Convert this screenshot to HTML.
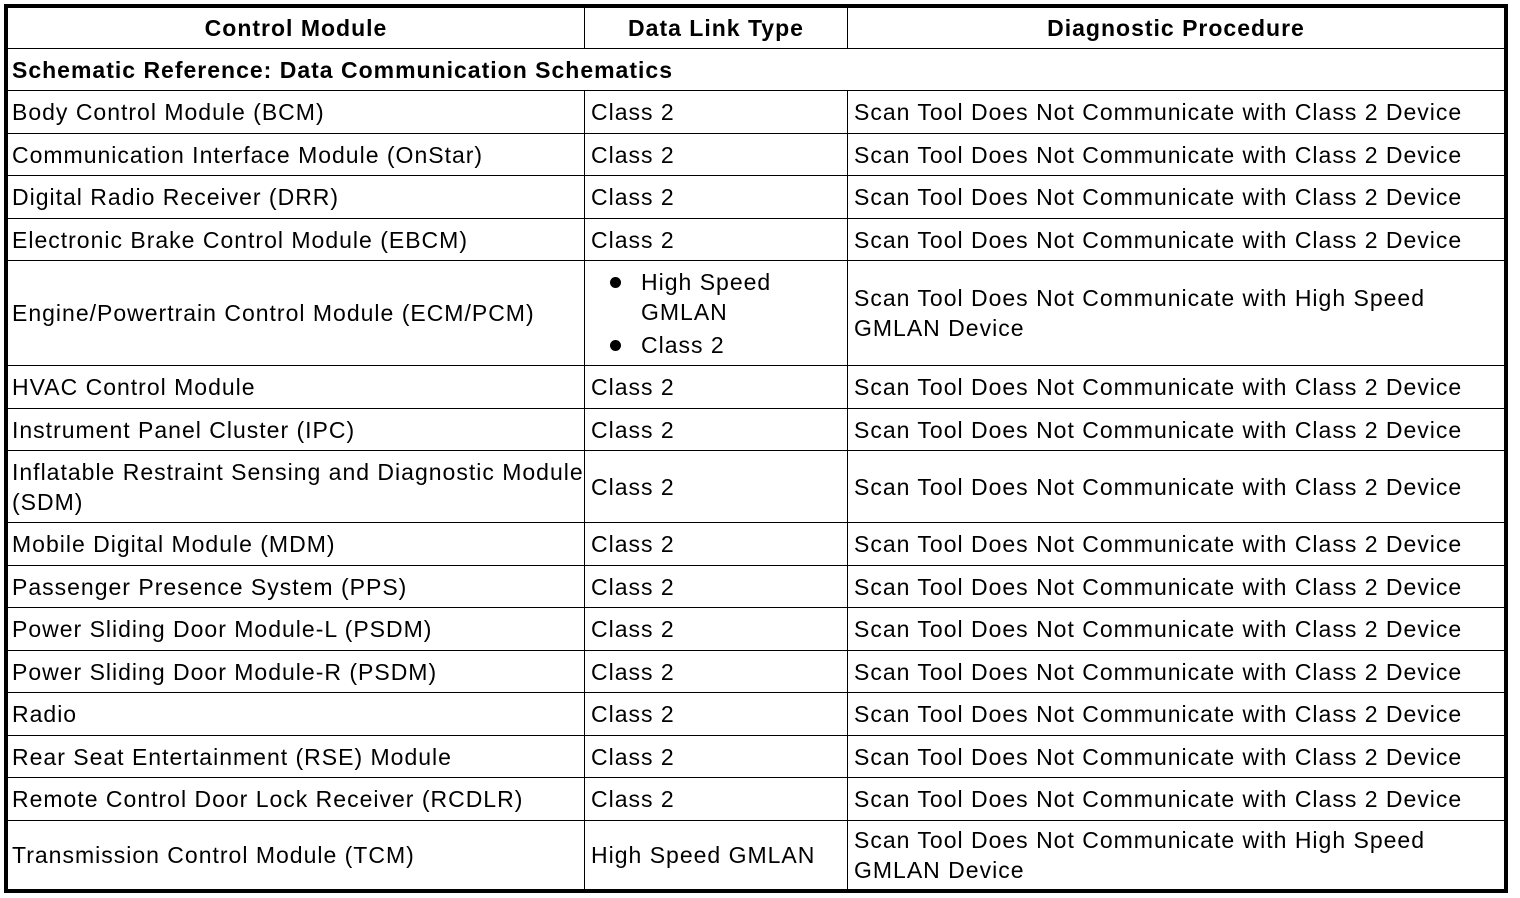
<!DOCTYPE html>
<html>
<head>
<meta charset="utf-8">
<style>
html,body{margin:0;padding:0;background:#fff;}
body{width:1520px;height:898px;position:relative;overflow:hidden;font-family:"Liberation Sans",Arial,Helvetica,sans-serif;font-size:23px;letter-spacing:1px;color:#000;}
.frame{position:absolute;left:4px;top:4px;width:1496px;height:881px;border:4px solid #000;}
.h{position:absolute;left:8px;width:1496px;height:1px;background:#000;}
.v{position:absolute;width:1px;background:#000;}
.c{position:absolute;display:flex;align-items:center;line-height:30px;white-space:nowrap;}
.hd{font-weight:bold;justify-content:center;}
.dot{position:absolute;width:11px;height:11px;border-radius:50%;background:#000;}
</style>
</head>
<body>
<div class="frame"></div>

<!-- horizontal lines -->
<div class="h" style="top:48px"></div>
<div class="h" style="top:90px"></div>
<div class="h" style="top:133px"></div>
<div class="h" style="top:175px"></div>
<div class="h" style="top:218px"></div>
<div class="h" style="top:260px"></div>
<div class="h" style="top:365px"></div>
<div class="h" style="top:408px"></div>
<div class="h" style="top:450px"></div>
<div class="h" style="top:522px"></div>
<div class="h" style="top:565px"></div>
<div class="h" style="top:607px"></div>
<div class="h" style="top:650px"></div>
<div class="h" style="top:692px"></div>
<div class="h" style="top:735px"></div>
<div class="h" style="top:777px"></div>
<div class="h" style="top:820px"></div>

<!-- vertical lines -->
<div class="v" style="left:584px;top:8px;height:40px"></div>
<div class="v" style="left:847px;top:8px;height:40px"></div>
<div class="v" style="left:584px;top:90px;height:799px"></div>
<div class="v" style="left:847px;top:90px;height:799px"></div>

<!-- header -->
<div class="c hd" style="left:8px;top:8px;width:576px;height:40px">Control Module</div>
<div class="c hd" style="left:585px;top:8px;width:262px;height:40px">Data Link Type</div>
<div class="c hd" style="left:848px;top:8px;width:656px;height:40px">Diagnostic Procedure</div>

<!-- schematic row -->
<div class="c" style="left:12px;top:49px;width:1490px;height:41px;font-weight:bold">Schematic Reference: Data Communication Schematics</div>

<!-- col1 -->
<div class="c" style="left:12px;top:91px;height:42px">Body Control Module (BCM)</div>
<div class="c" style="left:12px;top:134px;height:41px">Communication Interface Module (OnStar)</div>
<div class="c" style="left:12px;top:176px;height:42px">Digital Radio Receiver (DRR)</div>
<div class="c" style="left:12px;top:219px;height:41px">Electronic Brake Control Module (EBCM)</div>
<div class="c" style="left:12px;top:261px;height:104px">Engine/Powertrain Control Module (ECM/PCM)</div>
<div class="c" style="left:12px;top:366px;height:42px">HVAC Control Module</div>
<div class="c" style="left:12px;top:409px;height:41px">Instrument Panel Cluster (IPC)</div>
<div class="c" style="left:12px;top:451px;height:71px">Inflatable Restraint Sensing and Diagnostic Module<br>(SDM)</div>
<div class="c" style="left:12px;top:523px;height:42px">Mobile Digital Module (MDM)</div>
<div class="c" style="left:12px;top:566px;height:41px">Passenger Presence System (PPS)</div>
<div class="c" style="left:12px;top:608px;height:42px">Power Sliding Door Module-L (PSDM)</div>
<div class="c" style="left:12px;top:651px;height:41px">Power Sliding Door Module-R (PSDM)</div>
<div class="c" style="left:12px;top:693px;height:42px">Radio</div>
<div class="c" style="left:12px;top:736px;height:41px">Rear Seat Entertainment (RSE) Module</div>
<div class="c" style="left:12px;top:778px;height:42px">Remote Control Door Lock Receiver (RCDLR)</div>
<div class="c" style="left:12px;top:821px;height:68px">Transmission Control Module (TCM)</div>

<!-- col2 -->
<div class="c" style="left:591px;top:91px;height:42px">Class 2</div>
<div class="c" style="left:591px;top:134px;height:41px">Class 2</div>
<div class="c" style="left:591px;top:176px;height:42px">Class 2</div>
<div class="c" style="left:591px;top:219px;height:41px">Class 2</div>
<div class="dot" style="left:610px;top:277px"></div>
<div class="c" style="left:641px;top:267px;height:30px">High Speed</div>
<div class="c" style="left:641px;top:297px;height:30px">GMLAN</div>
<div class="dot" style="left:610px;top:340px"></div>
<div class="c" style="left:641px;top:330px;height:30px">Class 2</div>
<div class="c" style="left:591px;top:366px;height:42px">Class 2</div>
<div class="c" style="left:591px;top:409px;height:41px">Class 2</div>
<div class="c" style="left:591px;top:451px;height:71px">Class 2</div>
<div class="c" style="left:591px;top:523px;height:42px">Class 2</div>
<div class="c" style="left:591px;top:566px;height:41px">Class 2</div>
<div class="c" style="left:591px;top:608px;height:42px">Class 2</div>
<div class="c" style="left:591px;top:651px;height:41px">Class 2</div>
<div class="c" style="left:591px;top:693px;height:42px">Class 2</div>
<div class="c" style="left:591px;top:736px;height:41px">Class 2</div>
<div class="c" style="left:591px;top:778px;height:42px">Class 2</div>
<div class="c" style="left:591px;top:821px;height:68px">High Speed GMLAN</div>

<!-- col3 -->
<div class="c" style="left:854px;top:91px;height:42px">Scan Tool Does Not Communicate with Class 2 Device</div>
<div class="c" style="left:854px;top:134px;height:41px">Scan Tool Does Not Communicate with Class 2 Device</div>
<div class="c" style="left:854px;top:176px;height:42px">Scan Tool Does Not Communicate with Class 2 Device</div>
<div class="c" style="left:854px;top:219px;height:41px">Scan Tool Does Not Communicate with Class 2 Device</div>
<div class="c" style="left:854px;top:261px;height:104px">Scan Tool Does Not Communicate with High Speed<br>GMLAN Device</div>
<div class="c" style="left:854px;top:366px;height:42px">Scan Tool Does Not Communicate with Class 2 Device</div>
<div class="c" style="left:854px;top:409px;height:41px">Scan Tool Does Not Communicate with Class 2 Device</div>
<div class="c" style="left:854px;top:451px;height:71px">Scan Tool Does Not Communicate with Class 2 Device</div>
<div class="c" style="left:854px;top:523px;height:42px">Scan Tool Does Not Communicate with Class 2 Device</div>
<div class="c" style="left:854px;top:566px;height:41px">Scan Tool Does Not Communicate with Class 2 Device</div>
<div class="c" style="left:854px;top:608px;height:42px">Scan Tool Does Not Communicate with Class 2 Device</div>
<div class="c" style="left:854px;top:651px;height:41px">Scan Tool Does Not Communicate with Class 2 Device</div>
<div class="c" style="left:854px;top:693px;height:42px">Scan Tool Does Not Communicate with Class 2 Device</div>
<div class="c" style="left:854px;top:736px;height:41px">Scan Tool Does Not Communicate with Class 2 Device</div>
<div class="c" style="left:854px;top:778px;height:42px">Scan Tool Does Not Communicate with Class 2 Device</div>
<div class="c" style="left:854px;top:821px;height:68px">Scan Tool Does Not Communicate with High Speed<br>GMLAN Device</div>
</body>
</html>
